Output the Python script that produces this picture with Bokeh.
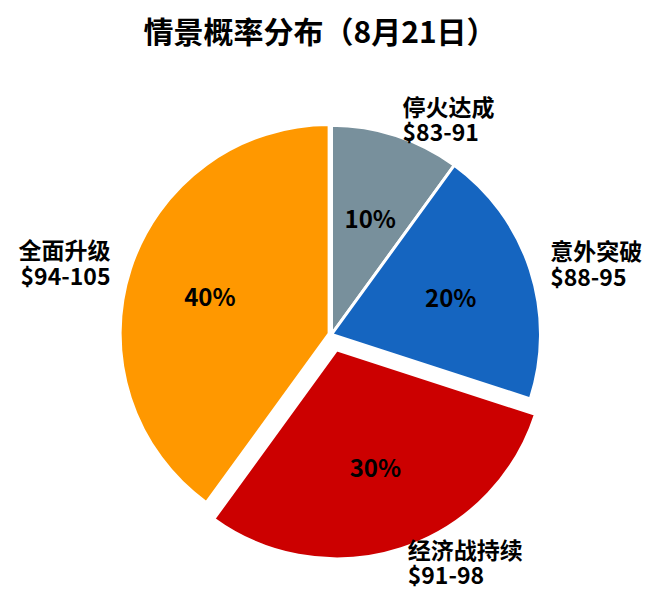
import math
from bokeh.plotting import figure
from bokeh.models import Range1d, ColumnDataSource
from bokeh.core.properties import value
from bokeh.embed import file_html
from bokeh.resources import INLINE

# ---- data ----
scenarios = ["停火达成", "意外突破", "经济战持续", "全面升级"]
probs = [10, 20, 30, 40]
price_ranges = ["$83-91", "$88-95", "$91-98", "$94-105"]
colors = ["#78909C", "#1565C0", "#CC0000", "#FF9800"]
explode = [0, 0, 0.08, 0.012]
title_text = "情景概率分布（8月21日）"

FONT = "Noto Sans CJK SC"
W, H = 642, 594
TITLE_H = 44          # estimated title panel height (px)
PX = 209.0            # pixels per data unit (pie radius)
CX, CY = 331, 328     # pie centre in figure px (from top-left)

frame_h = H - TITLE_H
cy_frame = CY - TITLE_H
x_start = -CX / PX
x_end = (W - CX) / PX
y_end = cy_frame / PX
y_start = y_end - frame_h / PX

p = figure(width=W, height=H, output_backend="svg", toolbar_location=None,
           x_range=Range1d(x_start, x_end), y_range=Range1d(y_start, y_end),
           min_border=0, min_border_left=0, min_border_right=0,
           min_border_top=0, min_border_bottom=0)
p.axis.visible = False
p.grid.visible = False
p.outline_line_color = None
p.background_fill_color = "white"
p.border_fill_color = "white"

p.title.text = title_text
p.title.align = "left"
p.title.offset = 143
p.title.text_font = FONT
p.title.text_font_size = "30px"
p.title.text_font_style = "bold"
p.title.text_color = "#000000"

total = float(sum(probs))
starts, ends, xs, ys, mids = [], [], [], [], []
cum = 0.0
for v, e in zip(probs, explode):
    a0 = math.pi / 2 - 2 * math.pi * cum / total
    cum += v
    a1 = math.pi / 2 - 2 * math.pi * cum / total
    mid = (a0 + a1) / 2
    starts.append(a0)
    ends.append(a1)
    mids.append(mid)
    xs.append(e * math.cos(mid))
    ys.append(e * math.sin(mid))

src = ColumnDataSource(dict(x=xs, y=ys, start=starts, end=ends, color=colors,
                            name=scenarios, prob=probs))
p.wedge(x="x", y="y", radius=1.0, start_angle="start", end_angle="end",
        direction="clock", fill_color="color", line_color="white",
        line_width=3, source=src)

# percentage labels
pct_r = 0.6
p.text(x=[xs[i] + pct_r * math.cos(mids[i]) for i in range(len(probs))],
       y=[ys[i] + pct_r * math.sin(mids[i]) for i in range(len(probs))],
       text=[f"{v}%" for v in probs],
       text_font=value(FONT), text_font_size="24px", text_font_style="bold",
       text_color="black", text_align="center", text_baseline="middle")

# outer labels (two lines)
lab_r = 1.1
half = 13.0 / PX
lift = 2.0 / PX
for i in range(len(probs)):
    lx = xs[i] + lab_r * math.cos(mids[i])
    ly = ys[i] + lab_r * math.sin(mids[i]) + lift
    align = "left" if math.cos(mids[i]) >= 0 else "right"
    p.text(x=[lx, lx], y=[ly + half, ly - half],
           text=[scenarios[i], price_ranges[i]],
           text_font=value(FONT), text_font_size="23px", text_font_style="bold",
           text_color="black", text_align=align, text_baseline="middle")

open("out.html", "w").write(file_html(p, INLINE))
